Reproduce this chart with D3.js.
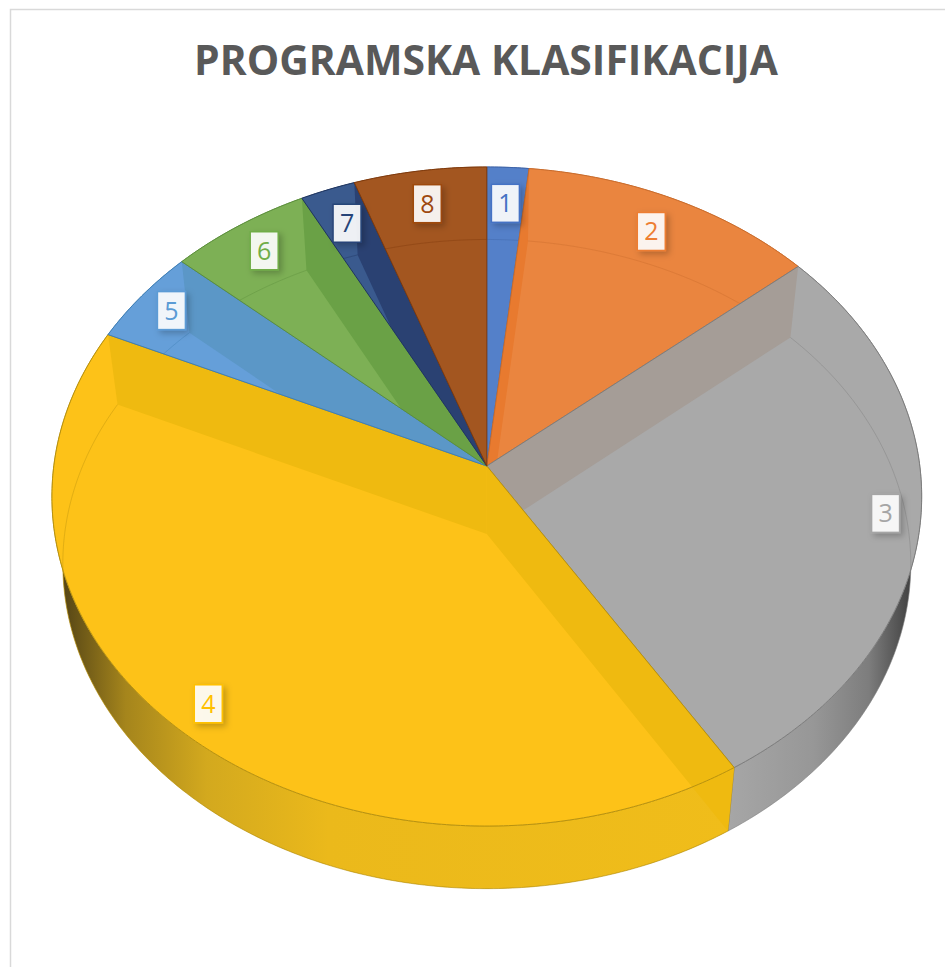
<!DOCTYPE html>
<html lang="en">
<head>
    <meta charset="UTF-8">
    <title>Programska klasifikacija</title>
    <style>
        body {
            margin: 0;
            background-color: #fff;
        }
        svg {
            display: block;
        }
    </style>
</head>
<body>
    <div id="chart"></div>
    <script src="https://d3js.org/d3.v7.min.js"></script>
    <script>
        const titleText = "PROGRAMSKA KLASIFIKACIJA";
        const categories = ["1", "2", "3", "4", "5", "6", "7", "8"];
        const values = [1.7, 12.1, 27.4, 40.7, 4.7, 5.8, 2.25, 5.4];

        // Colours per slice
        const topColors = ["#5480c9", "#ea853f", "#a9a9a9", "#fdc218", "#659fd9", "#7db055", "#3a5a8e", "#a35620"];
        const faceColors = ["#4a76bd", "#e87a2f", "#a59d97", "#efba10", "#5b97c7", "#6aa146", "#2a4172", "#9c5120"];
        const edgeColors = ["#3f64a8", "#c96c2c", "#7d7d7d", "#b8920f", "#3f7fb5", "#5c8f3c", "#1f3560", "#7f3a0c"];
        const textColors = ["#4472c4", "#ed7d31", "#a5a5a5", "#ffc000", "#5b9bd5", "#70ad47", "#264478", "#9e480e"];
        const labelRadius = [0.87, 0.87, 0.92, 0.91, 0.91, 0.89, 0.87, 0.88];
        // which cut faces show through each slice: [start, end]
        const showFaces = [[0, 0], [1, 0], [1, 0], [1, 1], [0, 1], [0, 1], [0, 1], [0, 0]];

        const width = 945;
        const height = 967;

        // Perspective of the tilted disc
        const cx = 486.8, cy = 466, depthY = 68, shrinkX = 0.975, shrinkY = 0.985;
        const a = 433, b = 326.7, k = 0.0926;

        function project(angle, r, bottom) {
            const u = r * Math.sin(angle);
            const v = -r * Math.cos(angle);
            const w = 1 - k * v;
            const dx = a * u / w;
            const dy = b * v / w;
            return bottom
                ? [cx + dx * shrinkX, cy + depthY + dy * shrinkY]
                : [cx + dx, cy + dy];
        }

        function rim(start, end, bottom) {
            const n = Math.max(2, Math.ceil((end - start) / 0.01));
            return d3.range(n + 1).map(i => project(start + (end - start) * i / n, 1, bottom));
        }

        const line = d3.line();
        const wedgePath = d => line([project(0, 0, false), ...rim(d.startAngle, d.endAngle, false)]) + "Z";
        const wallPath = d => line([...rim(d.startAngle, d.endAngle, false), ...rim(d.startAngle, d.endAngle, true).reverse()]) + "Z";
        const facePath = angle => line([project(0, 0, false), project(angle, 1, false), project(angle, 1, true), project(0, 0, true)]) + "Z";

        const arcs = d3.pie().sort(null).value(d => d)(values);

        const svg = d3.select("#chart")
            .append("svg")
            .attr("width", width)
            .attr("height", height);

        const defs = svg.append("defs");

        const greyWall = defs.append("linearGradient")
            .attr("id", "wall-2")
            .attr("gradientUnits", "userSpaceOnUse")
            .attr("x1", 730).attr("x2", 915).attr("y1", 0).attr("y2", 0);
        [[0, "#a6a6a6"], [0.45, "#979797"], [0.75, "#7d7d7d"], [1, "#3c3c3c"]]
            .forEach(s => greyWall.append("stop").attr("offset", s[0]).attr("stop-color", s[1]));

        const yellowWall = defs.append("linearGradient")
            .attr("id", "wall-3")
            .attr("gradientUnits", "userSpaceOnUse")
            .attr("x1", 58).attr("x2", 735).attr("y1", 0).attr("y2", 0);
        [[0, "#4f4015"], [0.1, "#a5851c"], [0.22, "#d3a91e"], [0.4, "#ebb91b"], [1, "#f0bd1a"]]
            .forEach(s => yellowWall.append("stop").attr("offset", s[0]).attr("stop-color", s[1]));

        const shadow = defs.append("filter")
            .attr("id", "label-shadow")
            .attr("x", "-40%").attr("y", "-40%")
            .attr("width", "200%").attr("height", "180%");
        shadow.append("feDropShadow")
            .attr("dx", 3).attr("dy", 3)
            .attr("stdDeviation", 3)
            .attr("flood-color", "#000")
            .attr("flood-opacity", 0.25);

        // Only the big front slice shows its face through its own wall too
        defs.selectAll("clipPath")
            .data(arcs)
            .join("clipPath")
            .attr("id", (d, i) => "slice-" + i)
            .selectAll("path")
            .data(d => d.index === 3 ? [wedgePath(d), wallPath(d)] : [wedgePath(d)])
            .join("path")
            .attr("d", d => d);

        // Chart area border
        svg.append("path")
            .attr("d", "M10.5," + height + "V9.5H" + width)
            .attr("fill", "none")
            .attr("stroke", "#d9d9d9")
            .attr("stroke-width", 1.5);

        svg.append("text")
            .attr("x", 486)
            .attr("y", 75)
            .attr("text-anchor", "middle")
            .attr("textLength", 584)
            .attr("lengthAdjust", "spacingAndGlyphs")
            .attr("font-family", "'Open Sans', sans-serif")
            .attr("font-weight", 700)
            .attr("font-size", 42)
            .attr("fill", "#595959")
            .text(titleText);

        // Outer walls
        svg.append("g")
            .selectAll("path")
            .data(arcs)
            .join("path")
            .attr("d", wallPath)
            .attr("fill", (d, i) => i === 2 || i === 3 ? "url(#wall-" + i + ")" : faceColors[i])
            .attr("stroke", (d, i) => edgeColors[i])
            .attr("stroke-width", 0.6);

        const slices = svg.append("g")
            .selectAll("g")
            .data(arcs)
            .join("g");

        slices.append("path")
            .attr("d", wedgePath)
            .attr("fill", (d, i) => topColors[i]);

        // Faces and the bottom rim, seen through the top of the slice
        const inner = slices.append("g")
            .attr("clip-path", (d, i) => "url(#slice-" + i + ")");

        inner.filter((d, i) => showFaces[i][0])
            .append("path")
            .attr("d", d => facePath(d.startAngle))
            .attr("fill", d => faceColors[d.index]);

        inner.filter((d, i) => showFaces[i][1])
            .append("path")
            .attr("d", d => facePath(d.endAngle))
            .attr("fill", d => faceColors[d.index]);

        inner.append("path")
            .attr("d", d => line(rim(d.startAngle, d.endAngle, true)))
            .attr("fill", "none")
            .attr("stroke", (d, i) => edgeColors[i])
            .attr("stroke-opacity", 0.4)
            .attr("stroke-width", 1);

        slices.append("path")
            .attr("d", wedgePath)
            .attr("fill", "none")
            .attr("stroke", (d, i) => edgeColors[i])
            .attr("stroke-width", 1);

        // Data labels
        const labels = svg.append("g")
            .selectAll("g")
            .data(arcs)
            .join("g")
            .attr("transform", (d, i) => {
                const p = project((d.startAngle + d.endAngle) / 2, labelRadius[i], false);
                return "translate(" + p[0] + "," + p[1] + ")";
            });

        labels.append("rect")
            .attr("x", -14)
            .attr("y", -19)
            .attr("width", 28)
            .attr("height", 38)
            .attr("fill", "#fff")
            .attr("fill-opacity", 0.9)
            .attr("stroke", (d, i) => textColors[i])
            .attr("stroke-width", 1.5)
            .attr("filter", "url(#label-shadow)");

        labels.append("text")
            .attr("text-anchor", "middle")
            .attr("y", 9)
            .attr("font-family", "'Open Sans', sans-serif")
            .attr("font-size", 25)
            .attr("fill", (d, i) => textColors[i])
            .text((d, i) => categories[i]);
    </script>
</body>
</html>
